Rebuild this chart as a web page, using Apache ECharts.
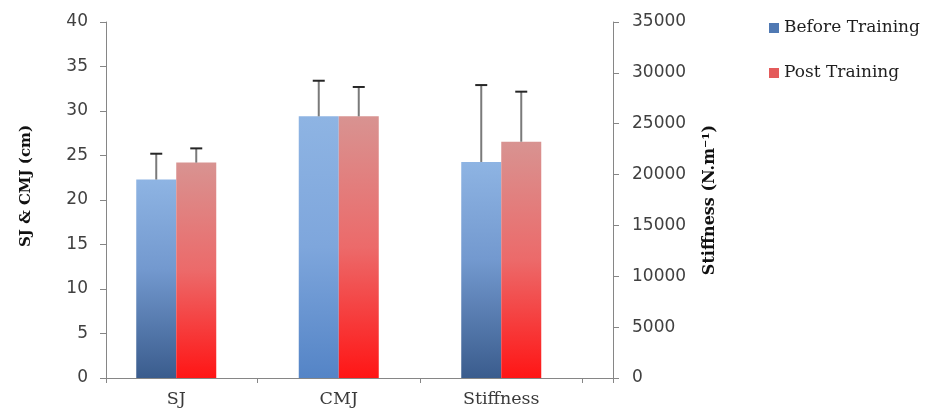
<!DOCTYPE html>
<html>
<head>
<meta charset="utf-8">
<script src="https://cdn.jsdelivr.net/npm/echarts@6/dist/echarts.min.js"></script>
<style>
html,body{margin:0;padding:0;background:#fff;}
#chart{width:926px;height:408px;}
</style>
</head>
<body>
<div id="chart"></div>
<script>
// ---- data ----
const categories = ['SJ', 'CMJ', 'Stiffness'];
const seriesNames = ['Before Training', 'Post Training'];
// SJ & CMJ (cm) — left axis
const beforeJump = [22.3, 29.4, '-'];
const postJump = [24.2, 29.4, '-'];
const beforeJumpSD = [2.9, 4.0, null];
const postJumpSD = [1.6, 3.3, null];
// Stiffness (N.m-1) — right axis
const beforeStiff = ['-', '-', 21240];
const postStiff = ['-', '-', 23230];
const beforeStiffSD = [null, null, 7560];
const postStiffSD = [null, null, 4920];

// ---- styles ----
const FONT_SANS = 'DejaVu Sans';
const FONT_SERIF = 'DejaVu Serif';
const BAR_W = 40;
const AXIS_COLOR = '#868686';

function grad(stops) {
  return new echarts.graphic.LinearGradient(0, 0, 0, 1,
    stops.map(s => ({ offset: s[0], color: s[1] })));
}
const beforeGrad = grad([[0, '#8eb4e3'], [0.45, '#7399cf'], [1, '#3a5c8d']]);
const beforeGradLight = grad([[0, '#8eb4e3'], [0.5, '#7ea6dc'], [1, '#5484c6']]);
const postGrad = grad([[0, '#d89391'], [0.5, '#ec6a6a'], [1, '#ff1515']]);

function styledData(values, styleFor) {
  return values.map((v, i) => ({ value: v, itemStyle: { color: styleFor(i) } }));
}

function errData(values, sds) {
  const out = [];
  values.forEach((v, i) => {
    if (v !== '-' && sds[i] != null) out.push([i, v, v + sds[i]]);
  });
  return out;
}

function errSeries(values, sds, sign, axisIdx) {
  return {
    type: 'custom',
    xAxisIndex: axisIdx,
    yAxisIndex: axisIdx,
    z: 5,
    silent: true,
    data: errData(values, sds),
    renderItem: function (params, api) {
      const base = api.coord([api.value(0), api.value(1)]);
      const top = api.coord([api.value(0), api.value(2)]);
      const x = base[0] + sign * BAR_W / 2;
      return {
        type: 'group',
        children: [
          { type: 'line', shape: { x1: x, y1: base[1], x2: x, y2: top[1] },
            style: { stroke: '#7a7a7a', lineWidth: 2 } },
          { type: 'line', shape: { x1: x - 6, y1: top[1], x2: x + 6, y2: top[1] },
            style: { stroke: '#262626', lineWidth: 2 } }
        ]
      };
    }
  };
}

const chart = echarts.init(document.getElementById('chart'), null, { renderer: 'canvas' });

const option = {
  backgroundColor: '#ffffff',
  animation: false,
  grid: [
    { left: 95, right: 343.5, top: 22, bottom: 30 },
    { left: 106, right: 313, top: 22, bottom: 30 }
  ],
  legend: {
    orient: 'vertical',
    left: 764,
    top: 13,
    itemWidth: 10,
    itemHeight: 10,
    itemGap: 25,
    icon: 'rect',
    textStyle: { fontFamily: FONT_SERIF, fontSize: 17, color: '#1e1e1e', lineHeight: 20 },
    data: [
      { name: seriesNames[0], itemStyle: { color: '#5079b3' } },
      { name: seriesNames[1], itemStyle: { color: '#e45b5b' } }
    ]
  },
  xAxis: [
    {
      type: 'category', gridIndex: 0, data: categories,
      axisLine: { show: false },
      axisTick: { show: true, length: 5, lineStyle: { color: AXIS_COLOR },
        interval: function (index) { return index > 0; } },
      axisLabel: { margin: 12, fontFamily: FONT_SERIF, fontSize: 17.5, color: '#3a3a3a' }
    },
    {
      type: 'category', gridIndex: 0, data: categories, show: false
    },
    {
      type: 'value', gridIndex: 1, min: 0, max: 1, interval: 1,
      axisLine: { show: true, lineStyle: { color: AXIS_COLOR } },
      axisTick: { show: true, length: 5, lineStyle: { color: AXIS_COLOR } },
      axisLabel: { show: false },
      splitLine: { show: false }
    }
  ],
  yAxis: [
    {
      type: 'value', gridIndex: 0, position: 'left', offset: -11,
      min: 0, max: 40, interval: 5,
      axisLine: { show: true, lineStyle: { color: AXIS_COLOR } },
      axisTick: { show: true, length: 6, lineStyle: { color: AXIS_COLOR } },
      axisLabel: { margin: 18, fontFamily: FONT_SANS, fontSize: 17, color: '#404040' },
      splitLine: { show: false }
    },
    {
      type: 'value', gridIndex: 0, position: 'right', offset: 30.5,
      min: 0, max: 35000, interval: 5000,
      axisLine: { show: true, lineStyle: { color: AXIS_COLOR } },
      axisTick: { show: true, length: 6, lineStyle: { color: AXIS_COLOR } },
      axisLabel: { margin: 19, fontFamily: FONT_SANS, fontSize: 17, color: '#404040',
        formatter: function (v) { return String(v); } },
      splitLine: { show: false }
    },
    {
      type: 'value', gridIndex: 1, show: false, min: 0, max: 1
    }
  ],
  series: [
    {
      name: seriesNames[0], type: 'bar', xAxisIndex: 0, yAxisIndex: 0,
      barWidth: BAR_W, barGap: '0%',
      data: styledData(beforeJump, i => (i === 1 ? beforeGradLight : beforeGrad))
    },
    {
      name: seriesNames[1], type: 'bar', xAxisIndex: 0, yAxisIndex: 0,
      barWidth: BAR_W, barGap: '0%',
      data: styledData(postJump, () => postGrad)
    },
    {
      name: seriesNames[0], type: 'bar', xAxisIndex: 1, yAxisIndex: 1,
      barWidth: BAR_W, barGap: '0%',
      data: styledData(beforeStiff, () => beforeGrad)
    },
    {
      name: seriesNames[1], type: 'bar', xAxisIndex: 1, yAxisIndex: 1,
      barWidth: BAR_W, barGap: '0%',
      data: styledData(postStiff, () => postGrad)
    },
    errSeries(beforeJump, beforeJumpSD, -1, 0),
    errSeries(postJump, postJumpSD, 1, 0),
    errSeries(beforeStiff, beforeStiffSD, -1, 1),
    errSeries(postStiff, postStiffSD, 1, 1)
  ],
  graphic: [
    {
      type: 'text', x: 26, y: 186, rotation: Math.PI / 2,
      style: { text: 'SJ & CMJ (cm)', fontFamily: FONT_SERIF, fontWeight: 'bold', fontSize: 15,
        fill: '#111', textAlign: 'center', textVerticalAlign: 'middle' }
    },
    {
      type: 'text', x: 710, y: 200, rotation: Math.PI / 2,
      style: { text: 'Stiffness (N.m\u207B\u00B9)', fontFamily: FONT_SERIF, fontWeight: 'bold', fontSize: 16,
        fill: '#111', textAlign: 'center', textVerticalAlign: 'middle' }
    }
  ]
};
chart.setOption(option);
</script>
</body>
</html>
